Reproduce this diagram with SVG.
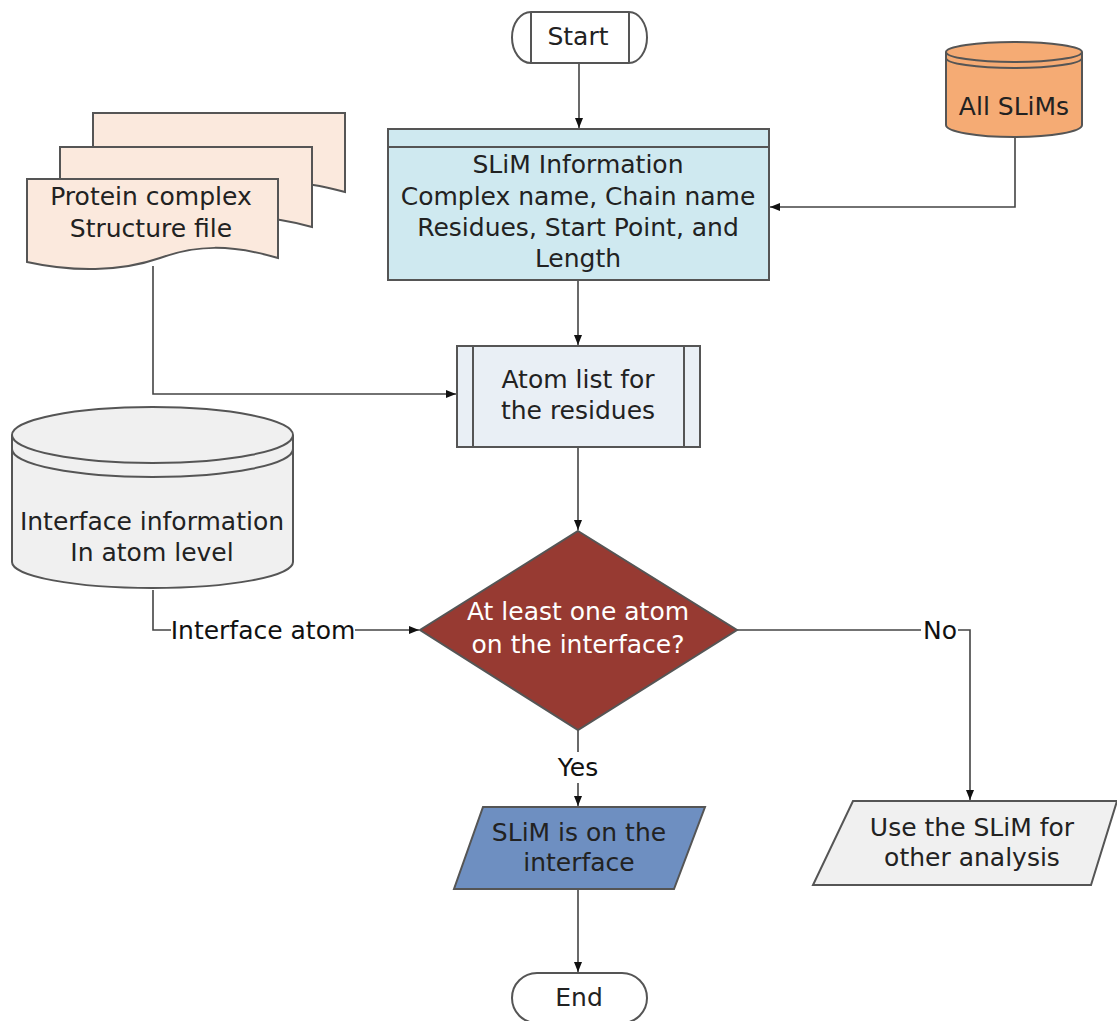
<svg xmlns="http://www.w3.org/2000/svg" width="1117" height="1021" viewBox="0 0 1117 1021">
  <style>
    text { font-family: "DejaVu Sans", "Liberation Sans", sans-serif; font-size: 25px; fill: #222; text-anchor: middle; }
    .shape { stroke: #555; stroke-width: 2; }
    .edge { fill: none; stroke: #444; stroke-width: 1.6; }
    .lbl { fill: #111; }
  </style>
  <defs>
    <marker id="arrow" viewBox="0 0 10 10" refX="10" refY="5" markerWidth="10" markerHeight="10" markerUnits="userSpaceOnUse" orient="auto">
      <path d="M0,1 L10,5 L0,9 Z" fill="#111"/>
    </marker>
  </defs>
  <rect width="1117" height="1021" fill="#fff"/>

  <!-- connectors -->
  <g id="connectors">
    <path class="edge" d="M579,63 V128" marker-end="url(#arrow)"/>
    <path class="edge" d="M1015,138 V207 H770" marker-end="url(#arrow)"/>
    <path class="edge" d="M153,266 V394 H456" marker-end="url(#arrow)"/>
    <path class="edge" d="M578,281 V345" marker-end="url(#arrow)"/>
    <path class="edge" d="M578,447 V530" marker-end="url(#arrow)"/>
    <path class="edge" d="M153,590 V630 H171"/>
    <path class="edge" d="M355,630 H419" marker-end="url(#arrow)"/>
    <text class="lbl" x="263" y="639">Interface atom</text>
    <path class="edge" d="M737,630 H921"/>
    <path class="edge" d="M958,630 H970 V800" marker-end="url(#arrow)"/>
    <text class="lbl" x="940" y="639">No</text>
    <path class="edge" d="M578,730 V752"/>
    <path class="edge" d="M578,783 V806" marker-end="url(#arrow)"/>
    <text class="lbl" x="578" y="776">Yes</text>
    <path class="edge" d="M578,889 V972" marker-end="url(#arrow)"/>
  </g>

  <!-- start terminal -->
  <g id="start">
    <path class="shape" fill="#fff" d="M531,12 H629 A18,25.5 0 0 1 629,63 H531 A19,25.5 0 0 1 531,12 Z"/>
    <line class="shape" x1="531" y1="12" x2="531" y2="63"/>
    <line class="shape" x1="629" y1="12" x2="629" y2="63"/>
    <text x="578" y="45">Start</text>
  </g>

  <!-- SLiM information box -->
  <g id="slim-info">
    <rect class="shape" x="388" y="129" width="381" height="151" fill="#cfe9f0"/>
    <line class="shape" x1="388" y1="147" x2="769" y2="147"/>
    <text x="578" y="173">SLiM Information</text>
    <text x="578" y="205">Complex name, Chain name</text>
    <text x="578" y="236">Residues, Start Point, and</text>
    <text x="578" y="267">Length</text>
  </g>

  <!-- All SLiMs store -->
  <g id="all-slims">
    <path class="shape" fill="#f5ab74" d="M946,52 A68,10 0 0 1 1082,52 V125 A68,12 0 0 1 946,125 Z"/>
    <path class="shape" fill="none" d="M946,52 A68,10 0 0 0 1082,52"/>
    <path class="shape" fill="none" d="M946,58 A68,10 0 0 0 1082,58"/>
    <text x="1014" y="115">All SLiMs</text>
  </g>

  <!-- protein complex structure files -->
  <g id="structure-files">
    <path class="shape" fill="#fbe9dd" d="M93,113 H345 V192 C297,179 267,179 237,192 L93,192 Z"/>
    <path class="shape" fill="#fbe9dd" d="M60,147 H312 V227 C264,214 234,214 204,227 L60,227 Z"/>
    <path class="shape" fill="#fbe9dd" d="M27,179 H278 V258 C230,244 196,245 160,258 C120,272 72,272 27,262 Z"/>
    <text x="151" y="205">Protein complex</text>
    <text x="151" y="237">Structure file</text>
  </g>

  <!-- atom list subprocess -->
  <g id="atom-list">
    <rect class="shape" x="457" y="346" width="243" height="101" fill="#e9eff5"/>
    <line class="shape" x1="473" y1="346" x2="473" y2="447"/>
    <line class="shape" x1="684" y1="346" x2="684" y2="447"/>
    <text x="578" y="388">Atom list for</text>
    <text x="578" y="419">the residues</text>
  </g>

  <!-- interface information store -->
  <g id="interface-info">
    <path class="shape" fill="#f0f0f0" d="M12,435 A140.5,28 0 0 1 293,435 V562 A140.5,26 0 0 1 12,562 Z"/>
    <path class="shape" fill="none" d="M12,435 A140.5,28 0 0 0 293,435"/>
    <path class="shape" fill="none" d="M12,449 A140.5,28 0 0 0 293,449"/>
    <text x="152" y="530">Interface information</text>
    <text x="152" y="561">In atom level</text>
  </g>

  <!-- decision -->
  <g id="decision">
    <path class="shape" fill="#973a32" d="M578,531 L737,630 L578,730 L420,630 Z"/>
    <text x="578" y="620" style="fill:#fff">At least one atom</text>
    <text x="578" y="653" style="fill:#fff">on the interface?</text>
  </g>

  <!-- yes outcome -->
  <g id="on-interface">
    <path class="shape" fill="#6e8fc1" d="M483,807 H705 L674,889 H454 Z"/>
    <text x="579" y="841">SLiM is on the</text>
    <text x="579" y="871">interface</text>
  </g>

  <!-- no outcome -->
  <g id="other-analysis">
    <path class="shape" fill="#f0f0f0" d="M853,801 H1117 L1091,885 H813 Z"/>
    <text x="972" y="836">Use the SLiM for</text>
    <text x="972" y="866">other analysis</text>
  </g>

  <!-- end terminal -->
  <g id="end">
    <rect class="shape" x="512" y="973" width="135" height="50" rx="25" ry="25" fill="#fff"/>
    <text x="579" y="1006">End</text>
  </g>
</svg>
